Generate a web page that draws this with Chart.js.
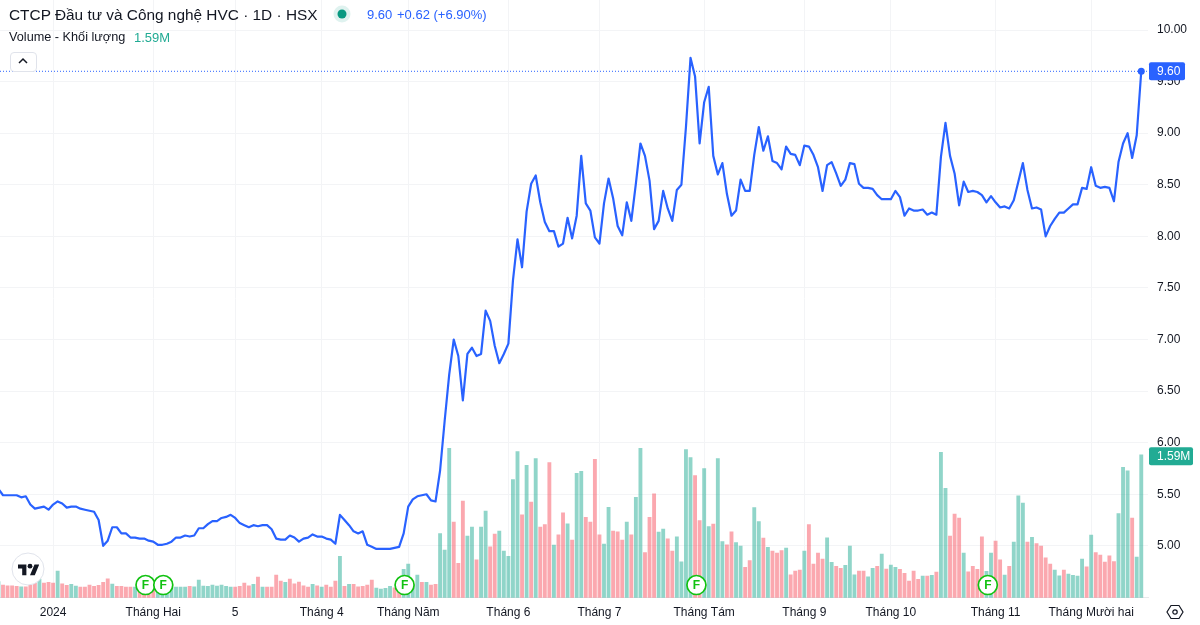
<!DOCTYPE html>
<html>
<head>
<meta charset="utf-8">
<title>HVC</title>
<script src="https://cdn.jsdelivr.net/npm/chart.js@4"></script>
<style>
    body { margin: 0; background: #fff; width: 1200px; height: 625px; overflow: hidden; position: relative; font-family: "Liberation Sans", sans-serif; color: #131722; }
    canvas { position: absolute; left: 0; top: 0; }
    .txt { position: absolute; white-space: nowrap; }
</style>
</head>
<body>
<canvas id="chart" width="1200" height="625"></canvas>

<div class="txt" style="left:9px;top:6px;font-size:15.4px;line-height:17px">CTCP Đầu tư và Công nghệ HVC · 1D · HSX</div>
<svg style="position:absolute;left:333px;top:5px" width="18" height="18"><circle cx="9" cy="9" r="8.5" fill="#089981" opacity=".13"/><circle cx="9" cy="9" r="4.5" fill="#089981"/></svg>
<div class="txt" style="left:367px;top:6px;font-size:13px;line-height:17px;color:#2962ff">9.60</div>
<div class="txt" style="left:397px;top:6px;font-size:13px;line-height:17px;color:#2962ff">+0.62 (+6.90%)</div>
<div class="txt" style="left:9px;top:29px;font-size:12.7px;line-height:17px">Volume - Khối lượng</div>
<div class="txt" style="left:134px;top:29px;font-size:13px;line-height:17px;color:#22ab94">1.59M</div>

<div style="position:absolute;left:10px;top:52px;width:25px;height:18px;background:#fff;border:1px solid #e0e3eb;border-radius:4px"></div>
<svg style="position:absolute;left:17px;top:56px" width="12" height="10"><path d="M2 7 L6 3 L10 7" fill="none" stroke="#131722" stroke-width="1.5"/></svg>

<svg style="position:absolute;left:11px;top:552px" width="34" height="34"><circle cx="17" cy="17" r="16" fill="#fff" stroke="#e0e3eb" stroke-width="1"/></svg>
<svg style="position:absolute;left:17.5px;top:561.6px" width="21.6" height="16.8" viewBox="0 0 36 28"><path d="M14 22H7V11H0V4h14v18zM28 22h-8l7.5-18h8L28 22z" fill="#131722"/><circle cx="20" cy="7" r="4" fill="#131722"/></svg>

<svg style="position:absolute;left:1166px;top:603px" width="18" height="18"><path d="M5 2.5 H13 L17 9 L13 15.5 H5 L1 9 Z" fill="none" stroke="#131722" stroke-width="1.2"/><circle cx="9" cy="9" r="2.2" fill="none" stroke="#131722" stroke-width="1.2"/></svg>

<script>
const priceTicks = [5, 5.5, 6, 6.5, 7, 7.5, 8, 8.5, 9, 9.5, 10];
const monthPos = [12, 34, 52, 71, 90, 112, 132, 155, 177, 196, 219, 240];
const monthLabels = ["2024", "Tháng Hai", "5", "Tháng 4", "Tháng Năm", "Tháng 6", "Tháng 7", "Tháng Tám", "Tháng 9", "Tháng 10", "Tháng 11", "Tháng Mười hai"];

const prices = [
    5.55, 5.49, 5.49, 5.49, 5.49, 5.47, 5.48, 5.40, 5.36, 5.37,
    5.38, 5.35, 5.40, 5.43, 5.41, 5.37, 5.38, 5.38, 5.36, 5.35,
    5.34, 5.33, 5.25, 5.00, 5.05, 5.18, 5.18, 5.12, 5.12, 5.08,
    5.08, 5.07, 5.07, 5.05, 5.04, 5.01, 5.01, 5.02, 5.04, 5.08,
    5.08, 5.10, 5.09, 5.10, 5.17, 5.17, 5.21, 5.24, 5.24, 5.27,
    5.28, 5.30, 5.27, 5.22, 5.20, 5.18, 5.20, 5.19, 5.20, 5.20,
    5.16, 5.07, 5.06, 5.06, 5.10, 5.08, 5.04, 5.07, 5.08, 5.11,
    5.09, 5.09, 5.07, 5.06, 5.02, 5.30, 5.25, 5.20, 5.14, 5.12,
    5.14, 5.01, 4.99, 4.97, 4.97, 4.97, 4.97, 4.98, 4.99, 5.12,
    5.38, 5.45, 5.48, 5.49, 5.50, 5.44, 5.43, 5.73, 6.21, 6.66,
    7.00, 6.84, 6.41, 6.86, 6.92, 6.84, 6.86, 7.28, 7.18, 6.94,
    6.77, 6.86, 6.96, 7.57, 7.97, 7.70, 8.24, 8.51, 8.59, 8.33,
    8.14, 8.05, 8.05, 7.90, 7.93, 8.18, 7.98, 8.20, 8.78, 8.32,
    8.25, 7.99, 7.93, 8.32, 8.56, 8.37, 8.10, 8.01, 8.33, 8.15,
    8.51, 8.90, 8.78, 8.54, 8.07, 8.15, 8.44, 8.27, 8.15, 8.45,
    8.50, 9.06, 9.73, 9.55, 8.90, 9.30, 9.45, 8.78, 8.60, 8.71,
    8.41, 8.20, 8.25, 8.55, 8.44, 8.44, 8.79, 9.06, 8.83, 8.97,
    8.73, 8.71, 8.65, 8.87, 8.80, 8.79, 8.69, 8.88, 8.87, 8.79,
    8.67, 8.44, 8.69, 8.72, 8.61, 8.49, 8.55, 8.71, 8.70, 8.51,
    8.47, 8.47, 8.46, 8.40, 8.36, 8.36, 8.36, 8.44, 8.38, 8.20,
    8.27, 8.25, 8.25, 8.26, 8.21, 8.23, 8.21, 8.77, 9.10, 8.78,
    8.61, 8.30, 8.53, 8.43, 8.44, 8.43, 8.40, 8.33, 8.39, 8.33,
    8.28, 8.29, 8.27, 8.35, 8.53, 8.71, 8.45, 8.27, 8.28, 8.26,
    8.00, 8.10, 8.17, 8.23, 8.23, 8.27, 8.31, 8.31, 8.47, 8.46,
    8.67, 8.49, 8.47, 8.48, 8.47, 8.34, 8.72, 8.90, 9.00, 8.76,
    8.98, 9.60
];

// volume in thousands
const volumes = [
    178, 141, 133, 133, 126, 122, 122, 144, 159, 207,
    163, 170, 163, 296, 155, 137, 148, 130, 118, 118,
    141, 126, 137, 170, 211, 152, 126, 126, 118, 118,
    118, 112, 112, 115, 112, 118, 112, 118, 118, 118,
    118, 118, 126, 122, 196, 130, 126, 141, 130, 141,
    126, 118, 118, 126, 163, 133, 148, 229, 118, 118,
    118, 252, 185, 170, 207, 155, 174, 133, 118, 148,
    133, 118, 141, 118, 185, 459, 126, 148, 148, 122,
    126, 141, 196, 107, 96, 104, 126, 111, 133, 315,
    374, 130, 252, 170, 170, 141, 148, 714, 529, 1661,
    840, 381, 1073, 685, 784, 422, 784, 962, 566, 707,
    740, 518, 459, 1314, 1624, 921, 1473, 1062, 1547, 784,
    814, 1502, 585, 699, 944, 821, 640, 1384, 1406, 895,
    840, 1539, 699, 596, 1006, 740, 733, 640, 840, 699,
    1117, 1661, 503, 895, 1154, 729, 762, 655, 518, 677,
    400, 1647, 1558, 1358, 858, 1436, 792, 818, 1547, 625,
    588, 733, 614, 574, 337, 414, 1003, 847, 662, 559,
    518, 496, 525, 551, 255, 296, 307, 518, 814, 374,
    496, 429, 666, 392, 348, 326, 359, 574, 255, 296,
    296, 233, 326, 348, 485, 318, 363, 337, 315, 270,
    185, 296, 204, 241, 241, 248, 285, 1617, 1217, 685,
    929, 884, 496, 289, 348, 315, 677, 292, 496, 629,
    422, 252, 348, 618, 1132, 1051, 618, 670, 603, 574,
    444, 374, 307, 244, 307, 263, 248, 241, 429, 344,
    696, 503, 474, 396, 466, 403, 936, 1450, 1410, 884,
    451, 1590
];

// 1 = up bar, 0 = down bar
const volUp = [
    1, 0, 0, 0, 0, 1, 0, 0, 0, 1,
    0, 0, 0, 1, 0, 0, 1, 1, 0, 0,
    0, 0, 0, 0, 0, 1, 0, 0, 0, 0,
    1, 0, 0, 0, 0, 1, 1, 1, 1, 1,
    1, 1, 0, 1, 1, 1, 1, 1, 1, 1,
    1, 1, 0, 0, 0, 0, 1, 0, 1, 0,
    0, 0, 0, 1, 0, 0, 0, 0, 0, 1,
    0, 1, 0, 0, 0, 1, 0, 1, 0, 0,
    0, 0, 0, 1, 1, 1, 1, 0, 0, 1,
    1, 1, 1, 0, 1, 0, 0, 1, 1, 1,
    0, 0, 0, 1, 1, 0, 1, 1, 0, 0,
    1, 1, 1, 1, 1, 0, 1, 0, 1, 0,
    0, 0, 1, 0, 0, 1, 0, 1, 1, 0,
    0, 0, 0, 1, 1, 0, 0, 0, 1, 0,
    1, 1, 0, 0, 0, 1, 1, 0, 0, 1,
    1, 1, 1, 0, 0, 1, 1, 0, 1, 1,
    0, 0, 1, 1, 0, 0, 1, 1, 0, 1,
    0, 0, 0, 1, 0, 0, 0, 1, 0, 0,
    0, 0, 1, 1, 0, 0, 1, 1, 1, 0,
    0, 1, 1, 0, 1, 0, 1, 1, 0, 0,
    0, 0, 0, 1, 0, 1, 0, 1, 1, 0,
    0, 0, 1, 0, 0, 0, 0, 1, 1, 0,
    0, 1, 0, 1, 1, 1, 0, 1, 0, 0,
    0, 0, 1, 1, 0, 1, 1, 1, 1, 0,
    1, 0, 0, 0, 0, 0, 1, 1, 1, 0,
    1, 1
];

// F markers (financial reports) on the time axis
const reportPos = [32.3, 36.2, 89.2, 153.3, 217.3];

const BLUE = '#2962ff';
const GREEN = '#22ab94';
const lastIdx = prices.length - 1;
const xMin = 0.34, xMax = 252.48;
const priceMin = 4.497, priceMax = 10.291;
const volMax = 6646;
const reportLevel = 141;

Chart.defaults.font.family = '"Liberation Sans", sans-serif';
Chart.defaults.font.size = 12;
Chart.defaults.color = '#131722';

function noPadding(scale) {
    scale.paddingLeft = 0;
    scale.paddingRight = 0;
    scale.paddingTop = 0;
    scale.paddingBottom = 0;
}

// F letter inside the report circles, price and volume tags on the right axis
const overlays = {
    id: 'overlays',
    afterDatasetsDraw(chart) {
        const ctx = chart.ctx;
        const marks = chart.getDatasetMeta(3).data;
        ctx.save();
        ctx.font = 'bold 12px "Liberation Sans", sans-serif';
        ctx.fillStyle = '#12c212';
        ctx.textAlign = 'center';
        ctx.textBaseline = 'middle';
        marks.forEach((p) => ctx.fillText('F', p.x, p.y + 0.5));
        ctx.restore();
    },
    afterDraw(chart) {
        const ctx = chart.ctx;
        const tag = (y, w, color, text) => {
            ctx.fillStyle = color;
            ctx.beginPath();
            ctx.roundRect(1149, y - 9, w, 18, 2);
            ctx.fill();
            ctx.fillStyle = '#fff';
            ctx.font = '12px "Liberation Sans", sans-serif';
            ctx.textAlign = 'left';
            ctx.textBaseline = 'middle';
            ctx.fillText(text, 1157, y + 0.5);
        };
        ctx.save();
        tag(chart.scales.y.getPixelForValue(prices[lastIdx]), 36, BLUE, '9.60');
        tag(chart.scales.yVol.getPixelForValue(volumes[lastIdx]) + 1.5, 44, GREEN, '1.59M');
        ctx.restore();
    }
};

new Chart(document.getElementById('chart'), {
    data: {
        datasets: [
            {
                type: 'line',
                data: [{ x: xMin, y: prices[lastIdx] }, { x: xMax, y: prices[lastIdx] }],
                borderColor: BLUE,
                borderWidth: 1,
                borderDash: [1, 2],
                pointRadius: 0,
                order: 2
            },
            {
                type: 'line',
                data: prices.map((v, i) => ({ x: i, y: v })),
                borderColor: BLUE,
                borderWidth: 2.2,
                tension: 0,
                borderJoinStyle: 'round',
                backgroundColor: BLUE,
                pointRadius: (c) => c.dataIndex === lastIdx ? 3.5 : 0,
                pointBorderWidth: 0,
                order: 1
            },
            {
                type: 'bar',
                yAxisID: 'yVol',
                data: volumes.map((v, i) => ({ x: i, y: v })),
                backgroundColor: volUp.map((u) => u ? 'rgba(34,171,148,.5)' : 'rgba(247,82,95,.5)'),
                barThickness: 3.2,
                order: 3
            },
            {
                type: 'line',
                yAxisID: 'yVol',
                showLine: false,
                data: reportPos.map((p) => ({ x: p, y: reportLevel })),
                pointRadius: 9.5,
                pointBorderWidth: 1.7,
                pointBorderColor: '#12c212',
                pointBackgroundColor: '#fff',
                order: 0
            }
        ]
    },
    options: {
        responsive: false,
        animation: false,
        layout: { padding: 0, autoPadding: false },
        plugins: { legend: { display: false }, tooltip: { enabled: false } },
        scales: {
            x: {
                type: 'linear',
                offset: false,
                min: xMin,
                max: xMax,
                grid: { color: '#f3f4f6', drawTicks: false, offset: false },
                border: { color: '#e8e9ec' },
                ticks: {
                    autoSkip: false,
                    maxRotation: 0,
                    padding: 8,
                    callback: (v) => monthLabels[monthPos.indexOf(v)]
                },
                afterBuildTicks(scale) { scale.ticks = monthPos.map((v) => ({ value: v })); },
                afterFit(scale) { scale.height = 27.3; noPadding(scale); }
            },
            y: {
                position: 'right',
                min: priceMin,
                max: priceMax,
                grid: { color: '#f3f4f6', drawTicks: false },
                border: { display: false },
                ticks: {
                    padding: 9,
                    callback: (v) => v.toFixed(2)
                },
                afterBuildTicks(scale) { scale.ticks = priceTicks.map((v) => ({ value: v })); },
                afterFit(scale) { scale.width = 52; noPadding(scale); }
            },
            yVol: {
                display: false,
                position: 'right',
                min: 0,
                max: volMax
            }
        }
    },
    plugins: [overlays]
});
</script>
</body>
</html>
